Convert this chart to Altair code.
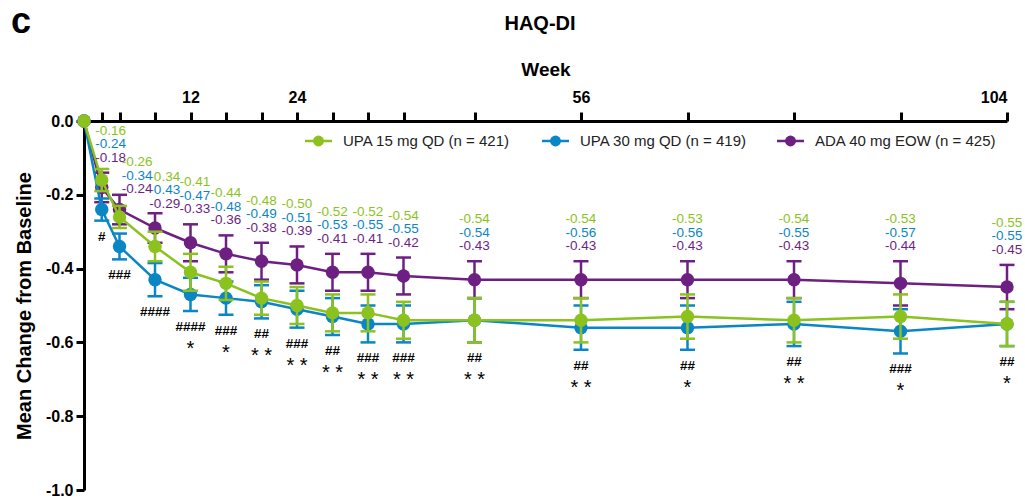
import altair as alt
import pandas as pd

# Visit weeks and mean change from baseline in HAQ-DI per arm
weeks = [0, 2, 4, 8, 12, 16, 20, 24, 28, 32, 36, 44, 56, 68, 80, 92, 104]
upa15 = [0, -0.16, -0.26, -0.34, -0.41, -0.44, -0.48, -0.50, -0.52, -0.52, -0.54, -0.54, -0.54, -0.53, -0.54, -0.53, -0.55]
upa30 = [0, -0.24, -0.34, -0.43, -0.47, -0.48, -0.49, -0.51, -0.53, -0.55, -0.55, -0.54, -0.56, -0.56, -0.55, -0.57, -0.55]
ada40 = [0, -0.18, -0.24, -0.29, -0.33, -0.36, -0.38, -0.39, -0.41, -0.41, -0.42, -0.43, -0.43, -0.43, -0.43, -0.44, -0.45]

# Half-widths of the error bars
err15 = [0, 0.03, 0.03, 0.04, 0.05, 0.045, 0.045, 0.05, 0.05, 0.05, 0.05, 0.06, 0.06, 0.06, 0.06, 0.06, 0.06]
err30 = [0, 0.03, 0.035, 0.045, 0.045, 0.045, 0.045, 0.05, 0.05, 0.05, 0.05, 0.06, 0.06, 0.06, 0.06, 0.06, 0.06]
errada = [0, 0.04, 0.04, 0.04, 0.05, 0.05, 0.05, 0.05, 0.05, 0.05, 0.05, 0.05, 0.05, 0.05, 0.05, 0.06, 0.06]

# Significance markers (# vs ADA for UPA 30, * vs ADA for UPA 15)
hash_marks = ["", "#", "###", "####", "####", "###", "##", "###", "##", "###", "###", "##", "##", "##", "##", "###", "##"]
star_marks = ["", "", "", "", "*", "*", "* *", "* *", "* *", "* *", "* *", "* *", "* *", "*", "* *", "*", "*"]

series_names = ["UPA 15 mg QD (n = 421)", "UPA 30 mg QD (n = 419)", "ADA 40 mg EOW (n = 425)"]
series_colors = ["#8cc21e", "#0b86c5", "#6d1f82"]

# Early value labels are nudged right/down so they do not collide (weeks, change units)
label_nudge = {2: (1.0, 0.0), 4: (2.0, -0.025), 8: (1.1, -0.015), 12: (0.5, 0.0)}

# Legend entry start offsets (pixels from the plot's left edge) and row offset
legend_x = [221, 458, 693]
legend_y = 20

FONT = "Liberation Sans"

rows = []
for name, vals, errs in zip(series_names, [upa15, upa30, ada40], [err15, err30, errada]):
    for w, v, e in zip(weeks, vals, errs):
        rows.append({"series": name, "week": w, "value": v, "lo": v - e, "hi": v + e})
df = pd.DataFrame(rows)

lab_rows = []
for i, w in enumerate(weeks):
    if w == 0:
        continue
    nx, ny = label_nudge.get(w, (0.0, 0.0))
    lab_rows.append({
        "week": w,
        "lx": w + nx,
        "anchor": ada40[i] + errada[i] + ny,
        "t15": f"{upa15[i]:.2f}",
        "t30": f"{upa30[i]:.2f}",
        "tada": f"{ada40[i]:.2f}",
        "low": min(upa15[i] - err15[i], upa30[i] - err30[i]),
        "hash": hash_marks[i],
        "star": star_marks[i],
    })
labels = pd.DataFrame(lab_rows)

x_scale = alt.Scale(domain=[0, 104], nice=False, zero=False)
y_scale = alt.Scale(domain=[-1.0, 0.0], nice=False)

x_axis = alt.Axis(
    orient="top", values=weeks[1:], title="Week",
    labelExpr="indexof([12, 24, 56, 104], datum.value) >= 0 ? datum.label : ''",
    labelFont=FONT, labelFontSize=16, labelFontWeight="bold", labelColor="black",
    labelPadding=7, labelAngle=0,
    titleFont=FONT, titleFontSize=19, titleFontWeight="bold", titleColor="black", titlePadding=10,
    domainColor="black", domainWidth=3, tickColor="black", tickWidth=3, tickSize=9, grid=False,
)
y_axis = alt.Axis(
    values=[0, -0.2, -0.4, -0.6, -0.8, -1.0], title="Mean  Change from Baseline",
    labelExpr="datum.value == 0 ? '0.0' : '-' + format(abs(datum.value), '.1f')",
    labelFont=FONT, labelFontSize=16, labelFontWeight="bold", labelColor="black", labelPadding=3,
    titleFont=FONT, titleFontSize=20, titleFontWeight="bold", titleColor="black", titlePadding=11,
    domainColor="black", domainWidth=3, tickColor="black", tickWidth=3, tickSize=8, grid=False,
)

X = alt.X("week:Q", scale=x_scale, axis=x_axis)
Y = alt.Y("value:Q", scale=y_scale, axis=y_axis)


def arm_layers(name):
    c = series_colors[series_names.index(name)]
    base = alt.Chart(df).transform_filter(alt.datum.series == name)
    bars = base.transform_filter(alt.datum.week > 0)
    line = base.mark_line(color=c, strokeWidth=2.5).encode(x=X, y=Y)
    rule = bars.mark_rule(color=c, strokeWidth=2.5).encode(x="week:Q", y="lo:Q", y2="hi:Q")
    cap_lo = bars.mark_tick(color=c, orient="horizontal", size=15, thickness=2.5, opacity=1).encode(x="week:Q", y="lo:Q")
    cap_hi = bars.mark_tick(color=c, orient="horizontal", size=15, thickness=2.5, opacity=1).encode(x="week:Q", y="hi:Q")
    pts = base.mark_point(filled=True, size=180, opacity=1, color=c).encode(x="week:Q", y="value:Q")
    return [line, rule, cap_lo, cap_hi, pts]


layers = []
for name in [series_names[2], series_names[1], series_names[0]]:
    layers += arm_layers(name)

# Legend: line-through-dot glyph followed by the arm name
for name, c, lx in zip(series_names, series_colors, legend_x):
    entry = alt.Chart(pd.DataFrame({"series": [name]}))
    layers.append(entry.mark_rule(color=c, strokeWidth=2.5).encode(
        x=alt.value(lx), x2=alt.value(lx + 27), y=alt.value(legend_y)))
    layers.append(entry.mark_point(filled=True, size=120, opacity=1, color=c).encode(
        x=alt.value(lx + 13.5), y=alt.value(legend_y)))
    layers.append(entry.mark_text(font=FONT, fontSize=15, color="#222222", align="left",
                                  baseline="middle").encode(
        x=alt.value(lx + 38), y=alt.value(legend_y), text="series:N"))

lab = alt.Chart(labels)
txt_kw = dict(font=FONT, fontSize=13.5, baseline="middle", align="center")
layers.append(lab.mark_text(color=series_colors[0], dy=-42, **txt_kw).encode(x="lx:Q", y="anchor:Q", text="t15:N"))
layers.append(lab.mark_text(color=series_colors[1], dy=-28.5, **txt_kw).encode(x="lx:Q", y="anchor:Q", text="t30:N"))
layers.append(lab.mark_text(color=series_colors[2], dy=-15, **txt_kw).encode(x="lx:Q", y="anchor:Q", text="tada:N"))

layers.append(lab.mark_text(font=FONT, fontSize=13.5, fontWeight="bold", color="black", dy=16,
                            baseline="middle").encode(x="week:Q", y="low:Q", text="hash:N"))
layers.append(lab.mark_text(font=FONT, fontSize=20, color="black", dy=38,
                            baseline="middle").encode(x="week:Q", y="low:Q", text="star:N"))

title_df = pd.DataFrame({"t": ["HAQ-DI"]})
panel_df = pd.DataFrame({"t": ["c"]})
layers.append(alt.Chart(title_df).mark_text(font=FONT, fontSize=20, fontWeight="bold", color="black").encode(
    x=alt.value(456), y=alt.value(-97), text="t:N"))
layers.append(alt.Chart(panel_df).mark_text(font=FONT, fontSize=36, fontWeight="bold", color="black").encode(
    x=alt.value(-63), y=alt.value(-99), text="t:N"))

chart = alt.layer(*layers).properties(
    width=923, height=369,
    autosize=alt.AutoSizeParams(type="none"),
    padding={"left": 84, "top": 121, "right": 18, "bottom": 10},
    background="white",
).configure_view(stroke=None)

chart.save("out.html", embed_options={"renderer": "svg", "actions": False})
